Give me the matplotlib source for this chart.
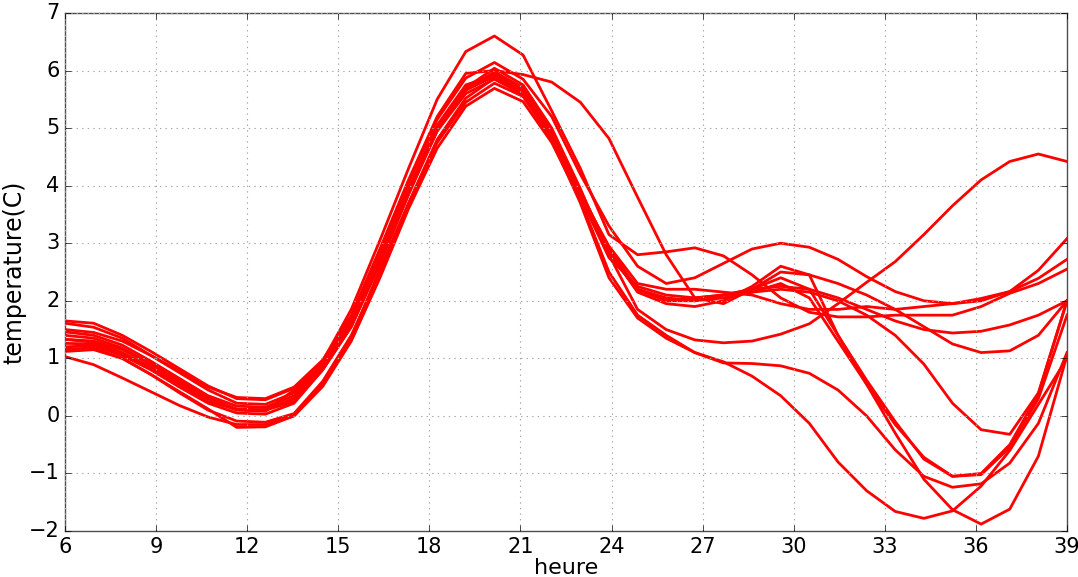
import numpy as np
import matplotlib
matplotlib.use("Agg")
import matplotlib.pyplot as plt

# hours (36 forecast steps)
heure = np.linspace(6, 39, 36)

# ensemble members, temperature (C)
m01 = [1.33, 1.30, 1.15, 0.90, 0.60, 0.30, 0.10, 0.08, 0.45, 0.95, 1.85, 3.05, 4.30, 5.50, 6.33, 6.60, 6.27, 5.30, 4.30, 3.15,
       2.80, 2.85, 2.92, 2.78, 2.45, 2.05, 1.80, 1.72, 1.72, 1.75, 1.75, 1.75, 1.90, 2.13, 2.30, 2.55]
m02 = [1.50, 1.45, 1.30, 1.05, 0.78, 0.50, 0.32, 0.30, 0.50, 0.97, 1.75, 2.90, 4.10, 5.20, 5.95, 6.00, 5.93, 5.80, 5.45, 4.82,
       3.80, 2.80, 2.05, 1.95, 2.20, 2.50, 2.45, 2.30, 2.10, 1.85, 1.55, 1.25, 1.10, 1.13, 1.40, 2.00]
m03 = [1.65, 1.61, 1.40, 1.12, 0.82, 0.52, 0.30, 0.28, 0.48, 0.92, 1.70, 2.85, 4.05, 5.15, 5.87, 6.14, 5.85, 5.20, 4.20, 3.30,
       2.60, 2.30, 2.40, 2.65, 2.90, 3.00, 2.93, 2.72, 2.42, 2.16, 2.00, 1.95, 2.00, 2.16, 2.53, 3.08]
m04 = [1.20, 1.22, 1.05, 0.80, 0.50, 0.22, 0.05, 0.03, 0.22, 0.80, 1.55, 2.65, 3.85, 5.00, 5.70, 6.04, 5.75, 5.00, 3.95, 2.80,
       1.85, 1.50, 1.32, 1.27, 1.30, 1.42, 1.60, 1.95, 2.32, 2.68, 3.15, 3.65, 4.10, 4.42, 4.55, 4.42]
m05 = [1.26, 1.25, 1.06, 0.82, 0.55, 0.30, 0.12, 0.10, 0.30, 0.82, 1.60, 2.70, 3.90, 4.95, 5.66, 5.98, 5.70, 4.95, 3.90, 2.90,
       2.20, 2.00, 2.00, 2.10, 2.20, 2.25, 2.20, 2.05, 1.85, 1.65, 1.50, 1.44, 1.47, 1.58, 1.75, 2.00]
m06 = [1.61, 1.54, 1.35, 1.05, 0.75, 0.45, 0.22, 0.20, 0.40, 0.89, 1.65, 2.75, 3.95, 5.05, 5.75, 5.92, 5.65, 4.90, 3.85, 2.95,
       2.30, 2.20, 2.20, 2.15, 2.10, 1.95, 1.85, 1.85, 1.90, 1.85, 1.90, 1.95, 2.04, 2.16, 2.39, 2.72]
m07 = [1.16, 1.18, 1.00, 0.72, 0.42, 0.12, -0.20, -0.19, 0.00, 0.55, 1.35, 2.55, 3.70, 4.80, 5.52, 5.87, 5.60, 4.85, 3.80, 2.85,
       2.15, 1.95, 1.90, 2.00, 2.25, 2.60, 2.45, 1.40, 0.55, -0.30, -1.10, -1.63, -1.88, -1.62, -0.70, 1.05]
m08 = [1.12, 1.15, 1.00, 0.72, 0.40, 0.10, -0.09, -0.11, 0.04, 0.60, 1.40, 2.50, 3.65, 4.75, 5.45, 5.78, 5.55, 4.80, 3.70, 2.40,
       1.70, 1.35, 1.10, 0.94, 0.69, 0.35, -0.13, -0.80, -1.30, -1.66, -1.78, -1.65, -1.22, -0.60, 0.20, 1.00]
m09 = [1.46, 1.40, 1.23, 0.95, 0.65, 0.35, 0.17, 0.15, 0.35, 0.85, 1.60, 2.70, 3.90, 5.00, 5.66, 5.90, 5.62, 4.88, 3.85, 2.80,
       2.20, 2.05, 2.00, 2.05, 2.15, 2.30, 2.05, 1.30, 0.55, -0.15, -0.72, -1.05, -1.00, -0.50, 0.38, 2.00]
m10 = [1.33, 1.28, 1.10, 0.85, 0.55, 0.25, 0.11, 0.10, 0.25, 0.80, 1.55, 2.65, 3.85, 4.95, 5.60, 5.85, 5.58, 4.85, 3.80, 2.75,
       2.25, 2.10, 2.05, 2.10, 2.20, 2.40, 2.20, 1.40, 0.62, -0.10, -0.75, -1.05, -1.02, -0.55, 0.30, 1.75]
m11 = [1.03, 0.89, 0.66, 0.42, 0.18, -0.02, -0.15, -0.15, 0.00, 0.51, 1.30, 2.40, 3.60, 4.65, 5.38, 5.69, 5.46, 4.75, 3.75, 2.50,
       1.75, 1.40, 1.10, 0.92, 0.91, 0.87, 0.74, 0.45, 0.00, -0.59, -1.05, -1.24, -1.18, -0.82, -0.13, 1.10]
m12 = [1.40, 1.35, 1.18, 0.90, 0.60, 0.32, 0.11, 0.11, 0.30, 0.85, 1.62, 2.72, 3.92, 5.02, 5.70, 5.95, 5.65, 4.92, 3.90, 2.90,
       2.20, 2.00, 2.05, 2.10, 2.15, 2.20, 2.15, 2.00, 1.75, 1.40, 0.90, 0.22, -0.24, -0.32, 0.40, 2.00]

membres = [m01, m02, m03, m04, m05, m06, m07, m08, m09, m10, m11, m12]

plt.style.use('classic')
fig = plt.figure(figsize=(10.78, 5.77), dpi=100)
ax = fig.add_axes([0.0603, 0.0797, 0.9295, 0.8978])

for m in membres:
    ax.plot(heure, m, color='red', linewidth=2.0)

ax.set_xlim(6, 39)
ax.set_ylim(-2, 7)
ax.set_xticks(np.arange(6, 40, 3))
ax.set_yticks(np.arange(-2, 8, 1))
ax.grid(True, linestyle=':', color='0.65', linewidth=0.8)
ax.tick_params(labelsize=15)
for s in ax.spines.values():
    s.set_color('0.3')

ax.set_xlabel('heure', fontsize=16, labelpad=1)
ax.set_ylabel('temperature(C)', fontsize=17, labelpad=2)

fig.savefig('out.png', dpi=100)
